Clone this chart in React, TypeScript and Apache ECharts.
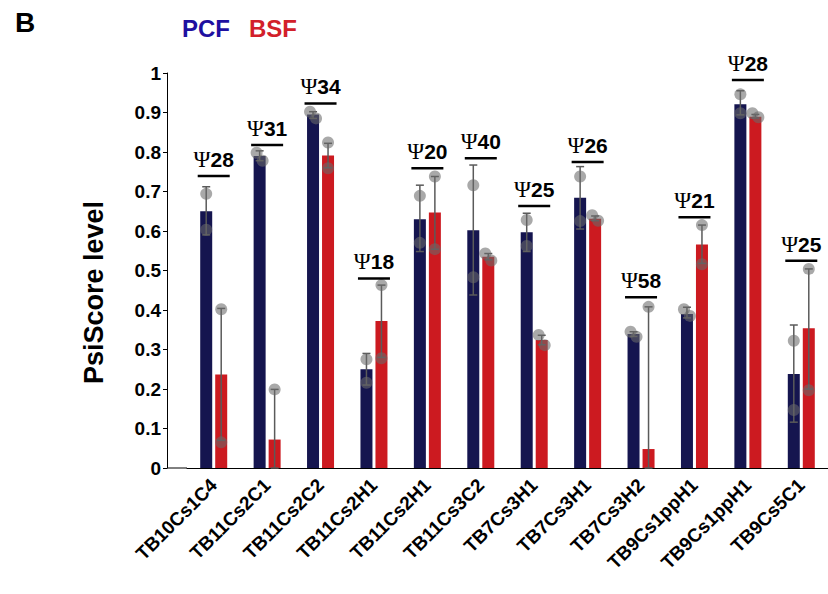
import React, { useEffect, useRef } from "react";
import * as echarts from "echarts";

// Splicing targets (two replicates per life-cycle stage)
const categories = [
  "TB10Cs1C4", "TB11Cs2C1", "TB11Cs2C2", "TB11Cs2H1", "TB11Cs2H1", "TB11Cs3C2",
  "TB7Cs3H1", "TB7Cs3H1", "TB7Cs3H2", "TB9Cs1ppH1", "TB9Cs1ppH1", "TB9Cs5C1",
];

// Mean PsiScore
const pcfMean = [0.65, 0.79, 0.895, 0.25, 0.63, 0.602, 0.597, 0.684, 0.339, 0.39, 0.921, 0.238];
const bsfMean = [0.237, 0.072, 0.791, 0.372, 0.647, 0.535, 0.324, 0.631, 0.048, 0.566, 0.889, 0.354];

// Error bar ends
const pcfErrLow = [0.59, 0.778, 0.885, 0.21, 0.548, 0.438, 0.548, 0.605, 0.333, 0.38, 0.894, 0.116];
const pcfErrHigh = [0.712, 0.803, 0.902, 0.29, 0.716, 0.767, 0.645, 0.763, 0.345, 0.407, 0.955, 0.362];
const bsfErrLow = [0.07, 0, 0.76, 0.28, 0.554, 0.527, 0.312, 0.626, 0, 0.518, 0.886, 0.2];
const bsfErrHigh = [0.404, 0.199, 0.822, 0.463, 0.738, 0.543, 0.336, 0.638, 0.408, 0.615, 0.895, 0.504];

// Individual replicates
const pcfRep1 = [0.694, 0.798, 0.902, 0.275, 0.689, 0.716, 0.628, 0.738, 0.345, 0.402, 0.946, 0.322];
const pcfRep2 = [0.603, 0.778, 0.885, 0.216, 0.57, 0.483, 0.562, 0.625, 0.332, 0.385, 0.898, 0.147];
const bsfRep1 = [0.402, 0.199, 0.824, 0.463, 0.738, 0.543, 0.337, 0.64, 0.408, 0.615, 0.898, 0.504];
const bsfRep2 = [0.065, null, 0.759, 0.278, 0.554, 0.525, 0.311, 0.626, null, 0.516, 0.888, 0.197];

// Pseudouridine site annotations
const psiSite = [28, 31, 34, 18, 20, 40, 25, 26, 58, 21, 28, 25];
const psiLineLevel = [0.739, 0.818, 0.923, 0.48, 0.759, 0.784, 0.663, 0.775, 0.432, 0.635, 0.982, 0.525];

const yTicks = [0, 0.1, 0.2, 0.3, 0.4, 0.5, 0.6, 0.7, 0.8, 0.9, 1];

const SANS = "'Liberation Sans', Arial, sans-serif";
const SERIF = "'Liberation Serif', 'Times New Roman', serif";
const PCF_COLOR = "#15154f";
const BSF_COLOR = "#cc1a20";
const BAR_W = 12;
const BAR_GAP = 3;
const HALF_STEP = (BAR_W + BAR_GAP) / 2;

function errorSeries(name: string, low: number[], high: number[], dx: number) {
  return {
    type: "custom",
    name: name + " err",
    z: 3,
    data: low.map((l, i) => [i, l, high[i]]),
    encode: { x: 0, y: [1, 2] },
    renderItem: (_params: any, api: any) => {
      const i = api.value(0);
      const pLow = api.coord([i, api.value(1)]);
      const pHigh = api.coord([i, api.value(2)]);
      const x = pLow[0] + dx;
      const style = { stroke: "#5a5a5a", lineWidth: 1.5 };
      return {
        type: "group",
        children: [
          { type: "line", shape: { x1: x, y1: pLow[1], x2: x, y2: pHigh[1] }, style },
          { type: "line", shape: { x1: x - 4, y1: pHigh[1], x2: x + 4, y2: pHigh[1] }, style },
          { type: "line", shape: { x1: x - 4, y1: pLow[1], x2: x + 4, y2: pLow[1] }, style },
        ],
      };
    },
  };
}

function dotSeries(name: string, rep1: (number | null)[], rep2: (number | null)[], dx: number) {
  const data: any[] = [];
  rep1.forEach((a, i) => {
    const b = rep2[i];
    // nudge overlapping replicates apart so both stay visible
    const close = a != null && b != null && Math.abs(a - b) < 0.03 && Math.abs(a - b) > 0.005;
    if (a != null) data.push({ value: [i, a], symbolOffset: [dx + (close ? -3 : 0), 0] });
    if (b != null) data.push({ value: [i, b], symbolOffset: [dx + (close ? 3 : 0), 0] });
  });
  return {
    type: "scatter",
    name: name + " reps",
    z: 4,
    symbol: "circle",
    symbolSize: 12,
    itemStyle: { color: "rgba(105,105,105,0.72)" },
    data,
  };
}

export default function App() {
  const ref = useRef<HTMLDivElement>(null);

  useEffect(() => {
    if (!ref.current) return;
    const chart = echarts.init(ref.current, null, { renderer: "svg" });

    chart.setOption({
      animation: false,
      backgroundColor: "#ffffff",
      title: {
        text: "B",
        left: 10,
        top: 3,
        textStyle: { fontFamily: SANS, fontWeight: "bold", fontSize: 28, color: "#000" },
      },
      legend: {
        left: 172,
        top: 11,
        itemWidth: 0,
        itemHeight: 0,
        itemGap: 14,
        selectedMode: false,
        textStyle: { fontFamily: SANS, fontWeight: "bold", fontSize: 24 },
        data: [
          { name: "PCF", textStyle: { color: "#1e10a0" } },
          { name: "BSF", textStyle: { color: "#d2202a" } },
        ],
      },
      grid: { left: 187, right: -6, top: 73, bottom: 126, containLabel: false },
      xAxis: {
        type: "category",
        data: categories,
        boundaryGap: true,
        axisLine: { show: true, lineStyle: { color: "#000", width: 1 } },
        axisTick: { show: false },
        axisLabel: {
          interval: 0,
          rotate: 45,
          margin: 14,
          color: "#000",
          fontFamily: SANS,
          fontWeight: "bold",
          fontSize: 19,
        },
      },
      yAxis: {
        type: "value",
        min: 0,
        max: 1,
        interval: 0.1,
        offset: 20,
        name: "PsiScore level",
        nameLocation: "middle",
        nameGap: 60,
        nameTextStyle: {
          fontFamily: SANS,
          fontWeight: "bold",
          fontSize: 27,
          color: "#000",
          padding: [0, 44, 0, 0],
        },
        splitLine: { show: false },
        axisLine: { show: true, lineStyle: { color: "#000", width: 1 } },
        axisTick: { show: true, inside: false, length: 4, lineStyle: { color: "#000" } },
        axisLabel: {
          color: "#000",
          fontFamily: SANS,
          fontWeight: "bold",
          fontSize: 19,
          margin: 6,
          formatter: (v: number) => {
            const t = yTicks.find((k) => Math.abs(k - v) < 1e-6);
            return t === undefined ? "" : String(t);
          },
        },
      },
      graphic: [
        {
          // carry the baseline over to the offset value axis
          type: "line",
          shape: { x1: 167, y1: 468, x2: 187, y2: 468 },
          style: { stroke: "#000", lineWidth: 1 },
        },
      ],
      series: [
        {
          type: "bar",
          name: "PCF",
          data: pcfMean,
          barWidth: BAR_W,
          barGap: "25%",
          itemStyle: { color: PCF_COLOR },
          z: 2,
        },
        {
          type: "bar",
          name: "BSF",
          data: bsfMean,
          barWidth: BAR_W,
          barGap: "25%",
          itemStyle: { color: BSF_COLOR },
          z: 2,
        },
        errorSeries("PCF", pcfErrLow, pcfErrHigh, -HALF_STEP),
        errorSeries("BSF", bsfErrLow, bsfErrHigh, HALF_STEP),
        dotSeries("PCF", pcfRep1, pcfRep2, -HALF_STEP),
        dotSeries("BSF", bsfRep1, bsfRep2, HALF_STEP),
        {
          type: "custom",
          name: "psi",
          z: 5,
          data: psiLineLevel.map((v, i) => [i, v, psiSite[i]]),
          encode: { x: 0, y: 1 },
          renderItem: (_params: any, api: any) => {
            const p = api.coord([api.value(0), api.value(1)]);
            return {
              type: "group",
              children: [
                {
                  type: "line",
                  shape: { x1: p[0] - 16, y1: p[1], x2: p[0] + 16, y2: p[1] },
                  style: { stroke: "#000", lineWidth: 2.5 },
                },
                {
                  type: "text",
                  x: p[0],
                  y: p[1] - 5,
                  style: {
                    text: "{g|Ψ}{n|" + api.value(2) + "}",
                    align: "center",
                    verticalAlign: "bottom",
                    rich: {
                      g: { fontFamily: SERIF, fontSize: 23, fill: "#000", fontWeight: "normal" },
                      n: { fontFamily: SANS, fontSize: 21, fill: "#000", fontWeight: "bold" },
                    },
                  },
                },
              ],
            };
          },
        },
      ],
    });

    return () => chart.dispose();
  }, []);

  return (
    <div
      ref={ref}
      style={{ position: "fixed", left: 0, top: 0, width: 828, height: 594, background: "#fff" }}
    />
  );
}
